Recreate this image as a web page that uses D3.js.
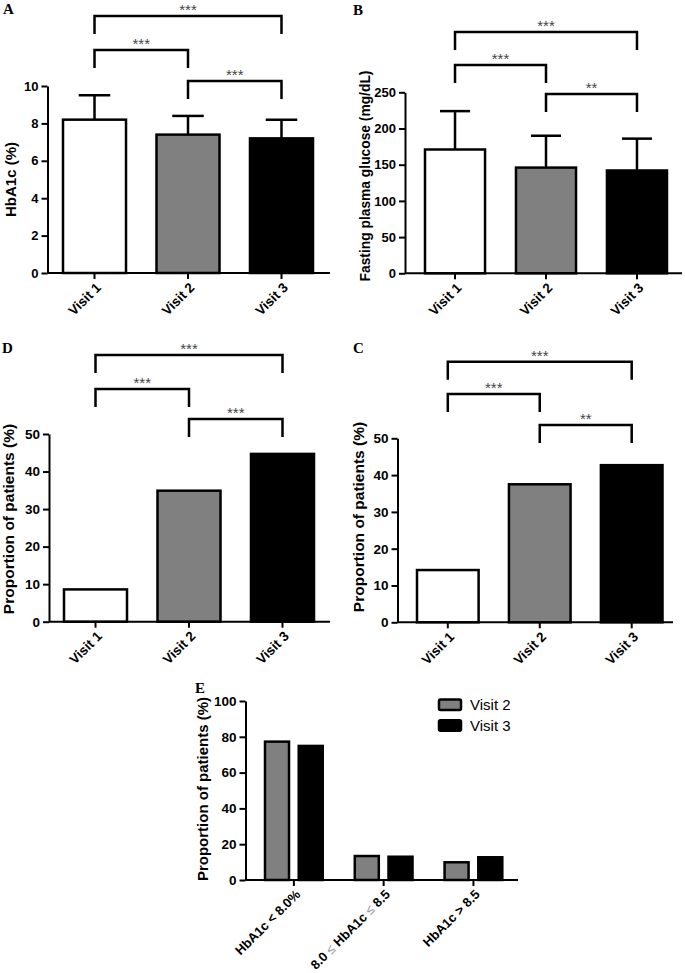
<!DOCTYPE html>
<html>
<head>
<meta charset="utf-8">
<script src="https://cdnjs.cloudflare.com/ajax/libs/d3/7.8.5/d3.min.js"></script>
<style>
  html, body { margin: 0; padding: 0; background: #fff; }
  svg { display: block; }
</style>
</head>
<body>
<svg id="chart" width="685" height="973"></svg>
<script>
// ---------------- DATA ----------------
const visits = ["Visit 1", "Visit 2", "Visit 3"];
const visitFills = ["#ffffff", "#808080", "#000000"];

// Panel A: HbA1c (%) mean and upper SD
const hba1cMean = [8.2, 7.4, 7.2];
const hba1cSD = [1.3, 1.0, 1.0];
const ticksA = [0, 2, 4, 6, 8, 10];

// Panel B: Fasting plasma glucose (mg/dL)
const fpgMean = [171, 146, 142];
const fpgSD = [53, 44, 44];
const ticksB = [0, 50, 100, 150, 200, 250];

// Panel D / C: proportion of patients (%)
const propD = [8.6, 34.9, 44.7];
const propC = [14.2, 37.5, 42.7];
const ticksProp = [0, 10, 20, 30, 40, 50];

// Significance brackets: [from, to, label]
const sigA = [["Visit 1", "Visit 3", "***"], ["Visit 1", "Visit 2", "***"], ["Visit 2", "Visit 3", "***"]];
const sigB = [["Visit 1", "Visit 3", "***"], ["Visit 1", "Visit 2", "***"], ["Visit 2", "Visit 3", "**"]];
const sigD = [["Visit 1", "Visit 3", "***"], ["Visit 1", "Visit 2", "***"], ["Visit 2", "Visit 3", "***"]];
const sigC = [["Visit 1", "Visit 3", "***"], ["Visit 1", "Visit 2", "***"], ["Visit 2", "Visit 3", "**"]];

// Panel E
const eCategories = ["HbA1c < 8.0%", "8.0 \u2264 HbA1c \u2264 8.5", "HbA1c > 8.5"];
const eSeries = ["Visit 2", "Visit 3"];
const eVisit2 = [77.3, 13.4, 9.9];
const eVisit3 = [74.9, 13.0, 12.7];
const eFills = ["#808080", "#000000"];
const ticksE = [0, 20, 40, 60, 80, 100];

// ---------------- DRAWING ----------------
const svg = d3.select("#chart");
const SANS = "'Liberation Sans', Arial, Helvetica, sans-serif";
const SERIF = "'Liberation Serif', 'Times New Roman', serif";

function txt(sel) { return sel.style("font-family", SANS); }

function panel(cfg) {
  const g = svg.append("g");
  const x = d3.scaleBand().domain(visits).range([cfg.barL, cfg.barR]).paddingInner(cfg.pad).paddingOuter(0);
  const y = d3.scaleLinear().domain([0, cfg.yMax]).range([cfg.y0, cfg.yTop]);

  // error bars (behind bars)
  if (cfg.sd) {
    visits.forEach((v, i) => {
      const cx = x(v) + x.bandwidth() / 2;
      const hw = x.bandwidth() / 4;
      const top = y(cfg.values[i] + cfg.sd[i]);
      g.append("line").attr("x1", cx).attr("x2", cx)
        .attr("y1", y(cfg.values[i])).attr("y2", top)
        .attr("stroke", "#000").attr("stroke-width", 2.5);
      g.append("line").attr("x1", cx - hw).attr("x2", cx + hw)
        .attr("y1", top).attr("y2", top)
        .attr("stroke", "#000").attr("stroke-width", 2.5);
    });
  }

  // bars
  g.selectAll("rect.bar").data(visits).join("rect")
    .attr("class", "bar")
    .attr("x", d => x(d))
    .attr("width", x.bandwidth())
    .attr("y", (d, i) => y(cfg.values[i]))
    .attr("height", (d, i) => y(0) - y(cfg.values[i]))
    .attr("fill", (d, i) => visitFills[i])
    .attr("stroke", "#000").attr("stroke-width", 2.5);

  // y axis
  const yAx = g.append("g").attr("transform", `translate(${cfg.axisX},0)`)
    .call(d3.axisLeft(y).tickValues(cfg.ticks).tickSize(6).tickPadding(3).tickSizeOuter(0));
  yAx.select(".domain").attr("stroke-width", 2);
  yAx.selectAll(".tick line").attr("stroke-width", 2);
  txt(yAx.selectAll("text")).attr("font-size", cfg.tickFont).attr("font-weight", "bold").attr("fill", "#000");

  // x axis
  const xAx = g.append("g").attr("transform", `translate(0,${cfg.y0})`)
    .call(d3.axisBottom(x).tickSize(6).tickSizeOuter(0).tickFormat(""));
  xAx.select(".domain").attr("d", `M${cfg.axisX},0H${cfg.axisEnd}`).attr("stroke-width", 2);
  xAx.selectAll(".tick line").attr("stroke-width", 2);
  visits.forEach(v => {
    const cx = x(v) + x.bandwidth() / 2;
    txt(g.append("text"))
      .attr("transform", `translate(${cx + 4},${cfg.y0 + 12}) rotate(-45)`)
      .attr("text-anchor", "end").attr("dy", "0.35em")
      .attr("font-size", cfg.xFont).attr("font-weight", "bold")
      .text(v);
  });

  // y label
  txt(g.append("text"))
    .attr("transform", `translate(${cfg.labelX},${cfg.labelY}) rotate(-90)`)
    .attr("text-anchor", "middle")
    .attr("font-size", cfg.labelFont).attr("font-weight", "bold")
    .text(cfg.label);

  // brackets
  cfg.sig.forEach((s, i) => {
    const x1 = x(s[0]) + x.bandwidth() / 2;
    const x2 = x(s[1]) + x.bandwidth() / 2;
    const by = cfg.brackets[i];
    g.append("path")
      .attr("d", `M${x1},${by + 18}V${by}H${x2}V${by + 18}`)
      .attr("fill", "none").attr("stroke", "#000").attr("stroke-width", 2.5);
    txt(g.append("text"))
      .attr("x", (x1 + x2) / 2).attr("y", by - 1)
      .attr("text-anchor", "middle")
      .attr("font-size", 15).attr("fill", "#444")
      .text(s[2]);
  });

  // panel letter
  g.append("text").attr("x", cfg.letterX).attr("y", cfg.letterY)
    .style("font-family", SERIF)
    .attr("font-weight", "bold").attr("font-size", 15)
    .text(cfg.letter);
}

panel({ letter: "A", letterX: 3, letterY: 14, values: hba1cMean, sd: hba1cSD, ticks: ticksA, yMax: 10,
  barL: 63, barR: 313, pad: 0.326, axisX: 47.5, axisEnd: 330, yTop: 86, y0: 273,
  tickFont: 13, xFont: 13.5, labelFont: 15, label: "HbA1c (%)", labelX: 16, labelY: 179.5,
  sig: sigA, brackets: [16, 50, 81] });

panel({ letter: "B", letterX: 353, letterY: 15, values: fpgMean, sd: fpgSD, ticks: ticksB, yMax: 250,
  barL: 425, barR: 667, pad: 0.34, axisX: 405, axisEnd: 682, yTop: 92.3, y0: 273.3,
  tickFont: 13, xFont: 13.5, labelFont: 13.8, label: "Fasting plasma glucose (mg/dL)", labelX: 370, labelY: 176,
  sig: sigB, brackets: [32, 65, 94] });

panel({ letter: "D", letterX: 2, letterY: 353, values: propD, sd: null, ticks: ticksProp, yMax: 50,
  barL: 64, barR: 314, pad: 0.326, axisX: 49, axisEnd: 330, yTop: 434, y0: 621.7,
  tickFont: 13.5, xFont: 13.5, labelFont: 15.5, label: "Proportion of patients (%)", labelX: 13.5, labelY: 519,
  sig: sigD, brackets: [355, 389, 419] });

panel({ letter: "C", letterX: 353, letterY: 353, values: propC, sd: null, ticks: ticksProp, yMax: 50,
  barL: 417, barR: 662.5, pad: 0.33, axisX: 397.5, axisEnd: 673, yTop: 438.3, y0: 622.3,
  tickFont: 13.5, xFont: 13.5, labelFont: 15.5, label: "Proportion of patients (%)", labelX: 364, labelY: 517,
  sig: sigC, brackets: [361.7, 394, 425] });

// ---------- Panel E ----------
(function () {
  const g = svg.append("g");
  const axisX = 245.5, axisEnd = 518, yTop = 701, y0 = 880;
  const x0 = d3.scaleBand().domain(eCategories).range([265, 502.3]).paddingInner(0.357).paddingOuter(0);
  const x1 = d3.scaleBand().domain(eSeries).range([0, x0.bandwidth()]).paddingInner(0.288).paddingOuter(0);
  const y = d3.scaleLinear().domain([0, 100]).range([y0, yTop]);
  const seriesVals = [eVisit2, eVisit3];

  eSeries.forEach((s, si) => {
    g.selectAll(null).data(eCategories).join("rect")
      .attr("x", d => x0(d) + x1(s))
      .attr("width", x1.bandwidth())
      .attr("y", (d, i) => y(seriesVals[si][i]))
      .attr("height", (d, i) => y(0) - y(seriesVals[si][i]))
      .attr("fill", eFills[si]).attr("stroke", "#000").attr("stroke-width", 2.5);
  });

  const yAx = g.append("g").attr("transform", `translate(${axisX},0)`)
    .call(d3.axisLeft(y).tickValues(ticksE).tickSize(6).tickPadding(3).tickSizeOuter(0));
  yAx.select(".domain").attr("stroke-width", 2);
  yAx.selectAll(".tick line").attr("stroke-width", 2);
  txt(yAx.selectAll("text")).attr("font-size", 13.5).attr("font-weight", "bold").attr("fill", "#000");

  const xAx = g.append("g").attr("transform", `translate(0,${y0})`)
    .call(d3.axisBottom(x0).tickSize(6).tickSizeOuter(0).tickFormat(""));
  xAx.select(".domain").attr("d", `M${axisX},0H${axisEnd}`).attr("stroke-width", 2);
  xAx.selectAll(".tick line").attr("stroke-width", 2);

  eCategories.forEach(c => {
    const cx = x0(c) + x0.bandwidth() / 2;
    const t = txt(g.append("text"))
      .attr("transform", `translate(${cx + 4},${y0 + 12}) rotate(-45)`)
      .attr("text-anchor", "end").attr("dy", "0.35em")
      .attr("font-size", 13).attr("font-weight", "bold");
    const parts = c.split("\u2264");
    parts.forEach((p, pi) => {
      t.append("tspan").text(p);
      if (pi < parts.length - 1) {
        t.append("tspan").attr("fill", "#999").attr("font-weight", "normal").text("\u2264");
      }
    });
  });

  txt(g.append("text"))
    .attr("transform", `translate(207.5,789) rotate(-90)`)
    .attr("text-anchor", "middle")
    .attr("font-size", 15).attr("font-weight", "bold")
    .text("Proportion of patients (%)");

  g.append("text").attr("x", 195).attr("y", 693)
    .style("font-family", SERIF)
    .attr("font-weight", "bold").attr("font-size", 15)
    .text("E");

  // legend
  eSeries.forEach((s, si) => {
    const ly = 699.5 + si * 20.7;
    g.append("rect").attr("x", 439).attr("y", ly).attr("width", 22).attr("height", 10.5)
      .attr("rx", 1.5)
      .attr("fill", eFills[si]).attr("stroke", "#000").attr("stroke-width", 2.5);
    txt(g.append("text")).attr("x", 470).attr("y", ly + 10.5)
      .attr("font-size", 15).attr("fill", "#000").text(s);
  });
})();
</script>
</body>
</html>
